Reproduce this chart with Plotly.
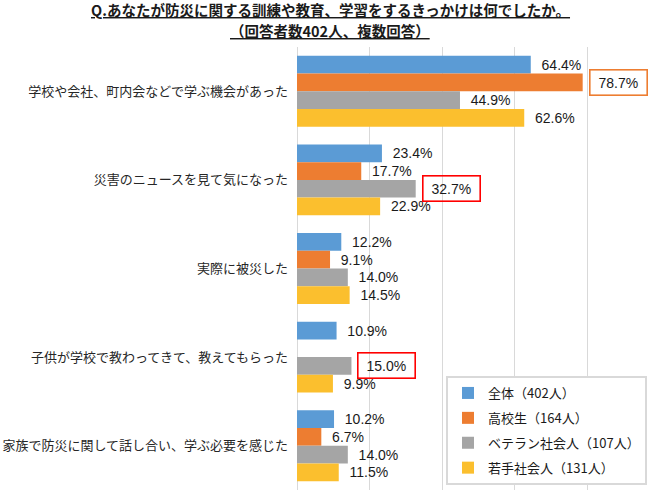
import plotly.graph_objects as go

categories = [
    "学校や会社、町内会などで学ぶ機会があった",
    "災害のニュースを見て気になった",
    "実際に被災した",
    "子供が学校で教わってきて、教えてもらった",
    "家族で防災に関して話し合い、学ぶ必要を感じた",
]
series_names = ["全体（402人）", "高校生（164人）", "ベテラン社会人（107人）", "若手社会人（131人）"]
all_vals = [64.4, 23.4, 12.2, 10.9, 10.2]
hs_vals = [78.7, 17.7, 9.1, None, 6.7]
vet_vals = [44.9, 32.7, 14.0, 15.0, 14.0]
young_vals = [62.6, 22.9, 14.5, 9.9, 11.5]
series_vals = [all_vals, hs_vals, vet_vals, young_vals]
colors = ["#5B9BD5", "#ED7D31", "#A5A5A5", "#FBBF2E"]
title_lines = [
    "Q.あなたが防災に関する訓練や教育、学習をするきっかけは何でしたか。",
    "（回答者数402人、複数回答）",
]

# highlighted labels: (series index, category index, box colour)
highlights = [(1, 0, "#ED7D31"), (2, 1, "#FF0000"), (2, 3, "#FF0000")]

W, H = 661, 490
M_L, M_R, M_T, M_B = 297, 1, 47, 0
BARGAP = 0.2
LABEL_FONT = dict(family="Liberation Sans, Arial", size=14, color="#1A1A1A")
NB = "\u00a0\u00a0"

hl_set = {(s, c) for s, c, _ in highlights}
plot_h = H - M_T - M_B
plot_w = W - M_L - M_R

fig = go.Figure()
for si, (name, vals, col) in enumerate(zip(series_names, series_vals, colors)):
    texts = []
    for ci, v in enumerate(vals):
        if v is None or (si, ci) in hl_set:
            texts.append("")
        else:
            texts.append(f"{NB}{v:.1f}%")
    fig.add_trace(go.Bar(
        y=categories, x=vals, name=name, orientation="h",
        marker=dict(color=col, line=dict(width=0)),
        text=texts, textposition="outside", textfont=LABEL_FONT,
        constraintext="none", cliponaxis=False,
        legendgroup=f"g{si}", hoverinfo="skip",
    ))

band = plot_h / len(categories)
bar_px = band * (1 - BARGAP) / len(series_names)
for si, ci, bcol in highlights:
    v = series_vals[si][ci]
    offset = (si - (len(series_names) - 1) / 2) * bar_px
    fig.add_annotation(
        x=v, y=categories[ci], xref="x", yref="y",
        text=f"\u00a0{v:.1f}%\u00a0", showarrow=False,
        xanchor="left", yanchor="middle", xshift=6, yshift=-offset,
        font=LABEL_FONT, bordercolor=bcol, borderwidth=1.6, borderpad=4,
        bgcolor="rgba(255,255,255,0)",
    )

# underlined title lines (annotations in paper coordinates)
title_font = dict(family="Noto Sans CJK JP", size=14.5, color="#1A1A1A")
for txt, py in zip(title_lines, [10, 30.5]):
    fig.add_annotation(
        x=(330 - M_L) / plot_w, xref="paper", xanchor="center",
        y=(H - M_B - py) / plot_h, yref="paper", yanchor="middle",
        text=f"<b><u>{txt}</u></b>", showarrow=False, font=title_font,
        borderpad=0,
    )

fig.update_layout(
    width=W, height=H,
    margin=dict(l=M_L, r=M_R, t=M_T, b=M_B, pad=0),
    paper_bgcolor="white", plot_bgcolor="white",
    barmode="group", bargap=BARGAP, bargroupgap=0,
    xaxis=dict(
        range=[0, 100], dtick=20, showticklabels=False, automargin=False,
        showgrid=True, gridcolor="#D9D9D9", gridwidth=1,
        zeroline=True, zerolinecolor="#D9D9D9", zerolinewidth=1,
        fixedrange=True,
    ),
    yaxis=dict(
        autorange="reversed", showgrid=False, ticks="", automargin=False,
        tickfont=dict(family="Noto Sans CJK JP", size=13, color="#262626"),
        ticklabelstandoff=8, fixedrange=True,
    ),
    legend=dict(
        x=(446 - M_L) / plot_w, xanchor="left",
        y=(H - M_B - 376) / plot_h, yanchor="top",
        traceorder="grouped", tracegroupgap=5,
        bgcolor="white", bordercolor="#D9D9D9", borderwidth=2,
        font=dict(family="Noto Sans CJK JP", size=13, color="#1A1A1A"),
        itemwidth=30,
    ),
    showlegend=True,
)

fig.write_html(
    "out.html",
    config={"displayModeBar": False},
    post_script="document.body.style.margin='0';document.body.style.overflow='hidden';",
)
